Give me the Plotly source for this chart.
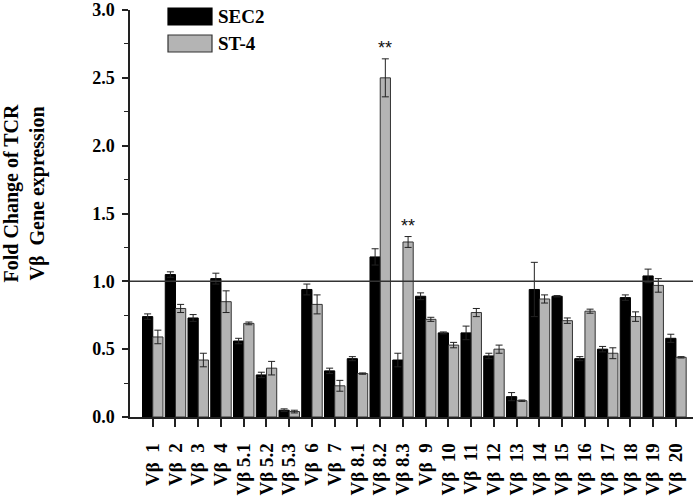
import plotly.graph_objects as go

categories = ["1", "2", "3", "4", "5.1", "5.2", "5.3", "6", "7", "8.1", "8.2", "8.3",
              "9", "10", "11", "12", "13", "14", "15", "16", "17", "18", "19", "20"]
tick_labels = [("Vβ\u00a0\u00a0" + c) if "." not in c else ("Vβ\u00a0" + c) for c in categories]

sec2 = [0.74, 1.05, 0.73, 1.02, 0.56, 0.31, 0.05, 0.94, 0.34, 0.43, 1.18, 0.42,
        0.89, 0.62, 0.62, 0.45, 0.15, 0.94, 0.89, 0.43, 0.50, 0.88, 1.04, 0.58]
sec2_err = [0.02, 0.02, 0.025, 0.04, 0.02, 0.02, 0.01, 0.04, 0.02, 0.015, 0.06, 0.05,
            0.025, 0.007, 0.05, 0.02, 0.03, 0.20, 0.005, 0.015, 0.02, 0.02, 0.05, 0.03]
st4 = [0.59, 0.80, 0.42, 0.85, 0.69, 0.36, 0.04, 0.83, 0.23, 0.32, 2.50, 1.29,
       0.72, 0.53, 0.77, 0.50, 0.12, 0.87, 0.71, 0.78, 0.47, 0.74, 0.97, 0.44]
st4_err = [0.05, 0.03, 0.05, 0.08, 0.01, 0.05, 0.01, 0.07, 0.04, 0.005, 0.14, 0.04,
           0.015, 0.02, 0.03, 0.03, 0.005, 0.03, 0.02, 0.015, 0.04, 0.035, 0.05, 0.005]
significant = ["8.2", "8.3"]
reference_level = 1.0
y_tick_values = [0, 0.5, 1.0, 1.5, 2.0, 2.5, 3.0]

SERIF = "Liberation Serif, Times New Roman, serif"

W, H = 693, 501
ML, MR, MT, MB = 130, 0, 10, 84
PW, PH = W - ML - MR, H - MT - MB

fig = go.Figure()
fig.add_trace(go.Bar(
    x=tick_labels, y=sec2, name="SEC2",
    marker=dict(color="#000000", line=dict(color="#000000", width=1)),
    error_y=dict(type="data", array=sec2_err, visible=True, color="#222222",
                 thickness=1, width=3.5),
    showlegend=False,
))
fig.add_trace(go.Bar(
    x=tick_labels, y=st4, name="ST-4",
    marker=dict(color="#b4b4b4", line=dict(color="#333333", width=1)),
    error_y=dict(type="data", array=st4_err, visible=True, color="#222222",
                 thickness=1, width=3.5),
    showlegend=False,
))

# significance stars above ST-4 bars
for c in significant:
    i = categories.index(c)
    fig.add_annotation(x=tick_labels[i], y=st4[i] + st4_err[i], xref="x", yref="y",
                       text="**", showarrow=False, xshift=5, yshift=-1,
                       yanchor="bottom", font=dict(family="Liberation Sans", size=18,
                                                   color="#111111"))

# reference line at 1.0
fig.add_shape(type="line", xref="paper", yref="y", x0=0, x1=1,
              y0=reference_level, y1=reference_level,
              line=dict(color="#333333", width=1.5))

# custom legend (large swatches)
legend_items = [("SEC2", "#000000", "#000000"), ("ST-4", "#b4b4b4", "#333333")]
for k, (lab, fill, edge) in enumerate(legend_items):
    top_px = 8 + 27 * k
    y_top = 1 - (top_px - MT) / PH
    y_bot = y_top - 17 / PH
    fig.add_shape(type="rect", xref="paper", yref="paper",
                  x0=(168 - ML) / PW, x1=(212 - ML) / PW, y0=y_bot, y1=y_top,
                  fillcolor=fill, line=dict(color=edge, width=1.2))
    fig.add_annotation(xref="paper", yref="paper", x=(216 - ML) / PW,
                       y=(y_top + y_bot) / 2, text="<b>%s</b>" % lab, showarrow=False,
                       xanchor="left", yanchor="middle",
                       font=dict(family=SERIF, size=19, color="#000000"))

# y-axis title
fig.add_annotation(xref="paper", yref="paper", x=-(ML - 1) / PW, y=(H - MB - 193) / PH,
                   text="<b>Fold Change of TCR<br>Vβ\u00a0\u00a0Gene expression</b>",
                   textangle=-90, showarrow=False, xanchor="left", yanchor="middle",
                   xshift=-4, font=dict(family=SERIF, size=20, color="#000000"))

fig.update_layout(
    width=W, height=H,
    margin=dict(l=ML, r=MR, t=MT, b=MB, autoexpand=False),
    paper_bgcolor="white", plot_bgcolor="white",
    barmode="group", bargap=0.1, bargroupgap=0,
    font=dict(family=SERIF, color="#000000"),
)
fig.update_xaxes(
    type="category", range=[-1, 23.75], automargin=False,
    tickvals=tick_labels, ticktext=["<b>%s</b>" % t for t in tick_labels],
    showline=True, linecolor="#222222", linewidth=1.5,
    ticks="outside", ticklen=8, tickwidth=1.5, tickcolor="#222222",
    tickangle=-90, tickfont=dict(family=SERIF, size=19, color="#000000"),
    ticklabelstandoff=9, ticklabeloverflow="allow", showgrid=False, zeroline=False,
)
fig.update_yaxes(
    range=[0, 3.0], automargin=False,
    tickvals=y_tick_values, ticktext=["<b>%.1f</b>" % v for v in y_tick_values],
    showline=True, linecolor="#222222", linewidth=1.5,
    ticks="outside", ticklen=6, tickwidth=1.5, tickcolor="#222222",
    minor=dict(tickvals=[0.25, 0.75, 1.25, 1.75, 2.25, 2.75], ticks="outside",
               ticklen=4, tickwidth=1.2, tickcolor="#222222"),
    tickfont=dict(family=SERIF, size=18, color="#000000"),
    ticklabelstandoff=4, ticklabeloverflow="allow", showgrid=False, zeroline=False,
)

fig.write_html(
    "out.html",
    config={"displayModeBar": False},
    post_script="document.body.style.margin='0';document.body.style.overflow='hidden';",
)
